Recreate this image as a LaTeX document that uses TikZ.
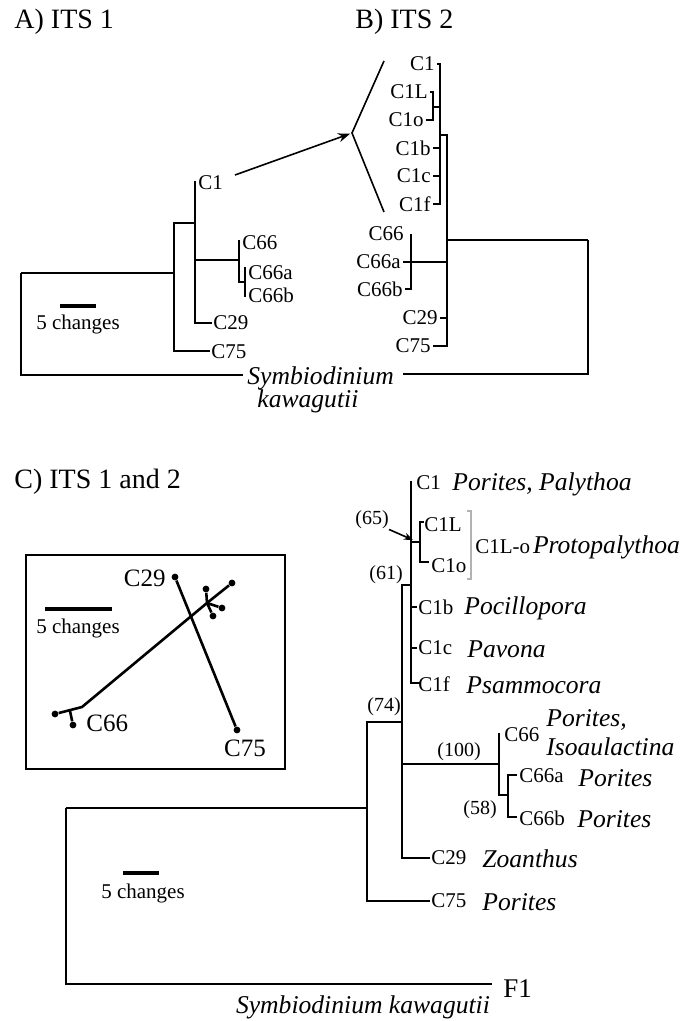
\documentclass[tikz,border=0pt]{standalone}
\usepackage{fontspec}
\setmainfont{Liberation Serif}
\usetikzlibrary{arrows.meta,positioning}
\tikzset{
  tree/.style={line width=0.8pt},
  thinln/.style={line width=0.8pt},
  lbl/.style={inner sep=0pt, font=\fontsize{10.5}{12}\selectfont},
  ilbl/.style={inner sep=0pt, font=\fontsize{12.5}{14}\selectfont},
  spc/.style={inner sep=0pt, anchor=west, font=\fontsize{12.8}{14}\selectfont\itshape},
  boot/.style={inner sep=0pt, font=\fontsize{10}{12}\selectfont},
  ttl/.style={inner sep=0pt, anchor=west, font=\fontsize{14}{16}\selectfont},
  bar/.style={line width=1.6pt},
  net/.style={line width=1.3pt},
  tipdot/.style={circle, fill=black, inner sep=0pt, minimum size=3.4pt},
  arr/.style={-{Stealth[length=6pt,width=4.5pt]}, line width=0.8pt}
}

\begin{document}
\begin{tikzpicture}[x=0.5pt, y=-0.5pt]
  \useasboundingbox (0,0) rectangle (694,1021);

  % panel titles
  \node[ttl] (tA) at (14,22) {A) ITS 1};
  \node[ttl] (tB) at (355,22) {B) ITS 2};
  \node[ttl] (tC) at (14,482) {C) ITS 1 and 2};

  % A) ITS 1
  \coordinate (aR) at (21,273);
  \coordinate (aN1) at (174,273);
  \coordinate (aN2) at (195,223);
  \coordinate (aN3) at (239,260);
  \coordinate (aN4) at (245,282);
  \coordinate (aC1) at (195,181);
  \coordinate (aC66) at (239,240);
  \coordinate (aC66a) at (245,267);
  \coordinate (aC66b) at (245,297);
  \coordinate (aC29) at (212,323);
  \coordinate (aC75) at (210,351);
  \coordinate (aOut) at (243,375);
  \draw[tree] (aR) |- (aN1) (aR) |- (aOut);
  \draw[tree] (aN1) |- (aN2) (aN1) |- (aC75);
  \draw[tree] (aN2) |- (aC1) (aN2) |- (aN3) (aN2) |- (aC29);
  \draw[tree] (aN3) |- (aC66) (aN3) |- (aN4);
  \draw[tree] (aN4) |- (aC66a) (aN4) |- (aC66b);
  \node[lbl, anchor=west] (aL1) at (198,183) {C1};
  \node[lbl, anchor=west] (aL66) at (242,243) {C66};
  \node[lbl, anchor=west] (aL66a) at (248,273) {C66a};
  \node[lbl, anchor=west] (aL66b) at (248,295) {C66b};
  \node[lbl, anchor=west] (aL29) at (213,323) {C29};
  \node[lbl, anchor=west] (aL75) at (211,352) {C75};
  \node[spc] (symA) at (247,378) {Symbiodinium};
  \node[spc] (kawA) at (257,401) {kawagutii};
  \coordinate (aS1) at (60,306);
  \coordinate (aS2) at (96,306);
  \draw[bar] (aS1) -- (aS2);
  \node[lbl] (aSL) at (78,324) {5 changes};

  % zoom arrow into B
  \coordinate (aArr) at (235,175);
  \coordinate (bV) at (352,133);
  \coordinate (bT) at (384,61);
  \coordinate (bB) at (384,212);
  \draw[arr, shorten >=1pt] (aArr) -- (bV);
  \draw[thinln] (bT) -- (bV) -- (bB);

  % B) ITS 2
  \coordinate (bR) at (588,240);
  \coordinate (bN1) at (447,240);
  \coordinate (bN2) at (440,135);
  \coordinate (bN3) at (411,262);
  \coordinate (bN4) at (433,107);
  \coordinate (bC1) at (437,64);
  \coordinate (bC1L) at (430,92);
  \coordinate (bC1o) at (426,120);
  \coordinate (bC1b) at (433,148);
  \coordinate (bC1c) at (433,176);
  \coordinate (bC1f) at (433,204);
  \coordinate (bC66) at (411,234);
  \coordinate (bC66a) at (403,262);
  \coordinate (bC66b) at (405,289);
  \coordinate (bC29) at (440,318);
  \coordinate (bC75) at (433,346);
  \coordinate (bOut) at (403,374);
  \draw[tree] (bR) |- (bN1) (bR) |- (bOut);
  \draw[tree] (bN1) |- (bN2) (bN1) |- (bN3) (bN1) |- (bC29) (bN1) |- (bC75);
  \draw[tree] (bN2) |- (bC1) (bN2) |- (bN4) (bN2) |- (bC1b) (bN2) |- (bC1c) (bN2) |- (bC1f);
  \draw[tree] (bN4) |- (bC1L) (bN4) |- (bC1o);
  \draw[tree] (bN3) |- (bC66) (bN3) |- (bC66a) (bN3) |- (bC66b);
  \node[lbl, anchor=east] (bL1) at (435,64) {C1};
  \node[lbl, anchor=east] (bL1L) at (428,92) {C1L};
  \node[lbl, anchor=east] (bL1o) at (424,120) {C1o};
  \node[lbl, anchor=east] (bL1b) at (431,148) {C1b};
  \node[lbl, anchor=east] (bL1c) at (431,176) {C1c};
  \node[lbl, anchor=east] (bL1f) at (431,204) {C1f};
  \node[lbl, anchor=east] (bL66) at (404,234) {C66};
  \node[lbl, anchor=east] (bL66a) at (401,262) {C66a};
  \node[lbl, anchor=east] (bL66b) at (403,289) {C66b};
  \node[lbl, anchor=east] (bL29) at (438,318) {C29};
  \node[lbl, anchor=east] (bL75) at (431,346) {C75};

  % C) inset network
  \draw[line width=0.7pt] (26,555) rectangle (285,769);
  \coordinate (iS1) at (45,609);
  \coordinate (iS2) at (112,609);
  \draw[bar] (iS1) -- (iS2);
  \node[lbl] (iSL) at (78,628) {5 changes};
  \coordinate (n66) at (82,707);
  \coordinate (n66s) at (70,711);
  \coordinate (nX) at (207,603);
  \node[tipdot] (n66L) at (55,714) {};
  \node[tipdot] (n66D) at (73,725) {};
  \node[tipdot] (nTR) at (232,583) {};
  \node[tipdot] (nU) at (206,589) {};
  \node[tipdot] (nRt) at (222,608) {};
  \node[tipdot] (nD) at (213,616) {};
  \node[tipdot] (n29) at (175,577) {};
  \node[tipdot] (n75) at (237,730) {};
  \draw[net] (n66L) -- (n66) -- (nX) -- (nTR);
  \draw[net] (n66s) -- (n66D);
  \draw[net] (nX) -- (nU) (nX) -- (nRt) (nX) -- (nD);
  \draw[net] (n29) -- (n75);
  \node[ilbl, anchor=east] (iL29) at (166,578) {C29};
  \node[ilbl, anchor=west] (iL66) at (86,723) {C66};
  \node[ilbl] (iL75) at (245,748) {C75};

  % C) combined tree
  \coordinate (cR) at (66,808);
  \coordinate (cN74) at (367,808);
  \coordinate (cN61) at (402,722);
  \coordinate (cN1) at (411,585);
  \coordinate (cN65) at (420,542);
  \coordinate (cN100) at (499,764);
  \coordinate (cN58) at (508,795);
  \coordinate (cC1) at (411,481);
  \coordinate (cC1L) at (424,522);
  \coordinate (cC1o) at (429,562);
  \coordinate (cC1b) at (417,607);
  \coordinate (cC1c) at (417,648);
  \coordinate (cC1f) at (420,683);
  \coordinate (cC66) at (499,733);
  \coordinate (cC66a) at (517,775);
  \coordinate (cC66b) at (517,817);
  \coordinate (cC29) at (430,858);
  \coordinate (cC75) at (430,901);
  \coordinate (cOut) at (492,984);
  \draw[tree] (cR) |- (cN74) (cR) |- (cOut);
  \draw[tree] (cN74) |- (cN61) (cN74) |- (cC75);
  \draw[tree] (cN61) |- (cN1) (cN61) |- (cN100) (cN61) |- (cC29);
  \draw[tree] (cN1) |- (cC1) (cN1) |- (cN65) (cN1) |- (cC1b) (cN1) |- (cC1c) (cN1) |- (cC1f);
  \draw[tree] (cN65) |- (cC1L) (cN65) |- (cC1o);
  \draw[tree] (cN100) |- (cC66) (cN100) |- (cN58);
  \draw[tree] (cN58) |- (cC66a) (cN58) |- (cC66b);

  \node[lbl, anchor=west] (cL1) at (416,483) {C1};
  \node[spc] (cP1) at (452,484) {Porites, Palythoa};
  \node[lbl, anchor=west] (cL1L) at (424,525) {C1L};
  \node[lbl, anchor=west] (cL1o) at (431,566) {C1o};
  \node[lbl, anchor=west] (cL1Lo) at (475,547) {C1L-o};
  \node[spc, right=1pt of cL1Lo] (cP1Lo) {Protopalythoa};
  \node[lbl, anchor=west] (cL1b) at (418,607) {C1b};
  \node[spc] (cP1b) at (464,608) {Pocillopora};
  \node[lbl, anchor=west] (cL1c) at (418,648) {C1c};
  \node[spc] (cP1c) at (467,649) {Pavona};
  \node[lbl, anchor=west] (cL1f) at (418,684) {C1f};
  \node[spc] (cP1f) at (466,685) {Psammocora};
  \node[lbl, anchor=west] (cL66) at (504,735) {C66};
  \node[spc] (cP66) at (546,720) {Porites,};
  \node[spc] (cP66i) at (546,747) {Isoaulactina};
  \node[lbl, anchor=west] (cL66a) at (519,776) {C66a};
  \node[spc] (cP66a) at (578,778) {Porites};
  \node[lbl, anchor=west] (cL66b) at (519,818) {C66b};
  \node[spc] (cP66b) at (577,819) {Porites};
  \node[lbl, anchor=west] (cL29) at (431,858) {C29};
  \node[spc] (cP29) at (482,859) {Zoanthus};
  \node[lbl, anchor=west] (cL75) at (431,901) {C75};
  \node[spc] (cP75) at (482,902) {Porites};
  \node[inner sep=0pt, anchor=west, font=\fontsize{13.5}{15}\selectfont] (cF1) at (503,989) {F1};
  \node[spc, anchor=center] (cSym) at (363,1007) {Symbiodinium kawagutii};

  % bootstrap values
  \node[boot] (b65) at (372,520) {(65)};
  \node[boot] (b61) at (386,575) {(61)};
  \node[boot] (b74) at (384,707) {(74)};
  \node[boot] (b100) at (459,752) {(100)};
  \node[boot] (b58) at (480,810) {(58)};
  \coordinate (c65a) at (413,540);
  \draw[-{Stealth[length=4.5pt,width=3.5pt]}, line width=0.8pt] (b65.south east) -- (c65a);

  % grey bracket round C1L and C1o
  \coordinate (gT) at (467,511);
  \coordinate (gB) at (467,579);
  \draw[gray!60, line width=0.8pt] (gT) -| ([xshift=2pt]gB) -- (gB);

  \coordinate (cS1) at (123,873);
  \coordinate (cS2) at (159,873);
  \draw[bar] (cS1) -- (cS2);
  \node[lbl] (cSL) at (143,893) {5 changes};
\end{tikzpicture}
\end{document}
